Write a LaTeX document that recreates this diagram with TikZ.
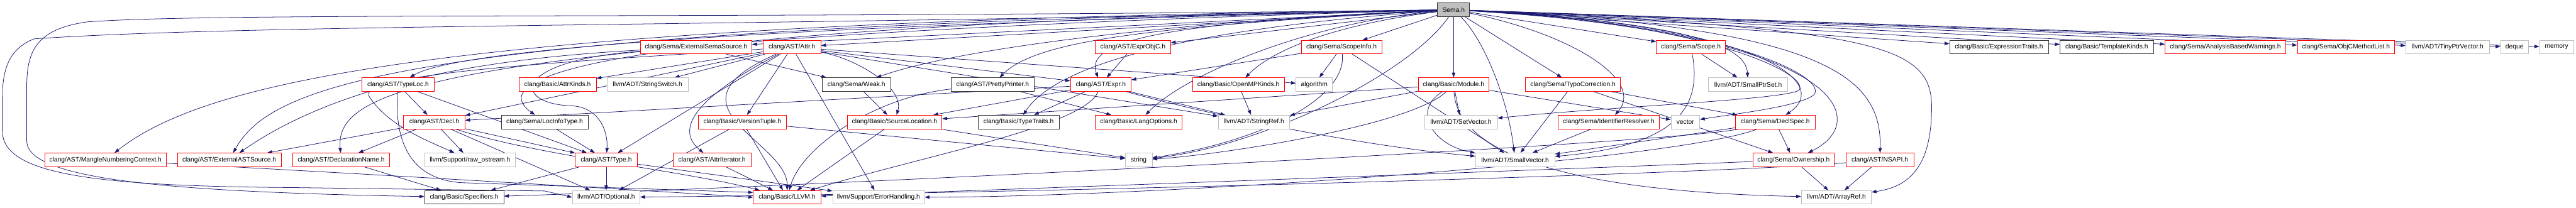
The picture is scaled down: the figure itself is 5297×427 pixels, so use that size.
\documentclass[tikz,border=0pt]{standalone}
\usepackage{fontspec}
\setmainfont{Liberation Sans}
\usetikzlibrary{arrows.meta,backgrounds}
\definecolor{edgec}{HTML}{191970}
\definecolor{grayb}{HTML}{BFBFBF}
\tikzset{
 box/.style={draw, rectangle, fill=white, line width=0.9pt, inner sep=0pt, minimum height=28pt, font=\fontsize{13.3}{16}\selectfont, text=black},
 redbox/.style={box, draw=red},
 blkbox/.style={box, draw=black!80},
 grybox/.style={box, draw=grayb},
 rootbox/.style={box, draw=black!80, fill=grayb},
 e/.style={draw=edgec, line width=1pt, -{Triangle[length=10pt,width=7pt]}},
}
\newcommand{\gnode}[6]{\node[#2, minimum width={(#4-#3)*1pt}] (#1) at ({(#3+#4)/2},#5) {#6};}
\begin{document}
\begin{tikzpicture}[x=1pt,y=-1pt]
\useasboundingbox (0,0) rectangle (5297,427);
% row 0
\gnode{S}{rootbox}{2956}{3022}{20}{Sema.h}
% row 1
\gnode{ess}{redbox}{1317}{1546}{97}{clang/Sema/ExternalSemaSource.h}
\gnode{attr}{redbox}{1569}{1688}{97}{clang/AST/Attr.h}
\gnode{eobjc}{redbox}{2252}{2407}{97}{clang/AST/ExprObjC.h}
\gnode{sinfo}{redbox}{2676}{2841}{97}{clang/Sema/ScopeInfo.h}
\gnode{scope}{redbox}{3406}{3548}{97}{clang/Sema/Scope.h}
\gnode{etr}{blkbox}{4009}{4212}{97}{clang/Basic/ExpressionTraits.h}
\gnode{tk}{blkbox}{4236}{4428}{97}{clang/Basic/TemplateKinds.h}
\gnode{abw}{redbox}{4452}{4700}{97}{clang/Sema/AnalysisBasedWarnings.h}
\gnode{ocml}{redbox}{4724}{4924}{97}{clang/Sema/ObjCMethodList.h}
\gnode{tpv}{grybox}{4947}{5119}{97}{llvm/ADT/TinyPtrVector.h}
\gnode{deque}{grybox}{5142}{5199}{97}{deque}
\gnode{memory}{grybox}{5222}{5292}{97}{memory}
% row 2
\gnode{tloc}{redbox}{744}{893}{174}{clang/AST/TypeLoc.h}
\gnode{ak}{redbox}{1067}{1226}{174}{clang/Basic/AttrKinds.h}
\gnode{ssw}{grybox}{1248}{1415}{174}{llvm/ADT/StringSwitch.h}
\gnode{weak}{blkbox}{1691}{1831}{174}{clang/Sema/Weak.h}
\gnode{pp}{blkbox}{1956}{2126}{174}{clang/AST/PrettyPrinter.h}
\gnode{expr}{redbox}{2201}{2326}{174}{clang/AST/Expr.h}
\gnode{omp}{redbox}{2452}{2641}{174}{clang/Basic/OpenMPKinds.h}
\gnode{algo}{grybox}{2665}{2740}{174}{algorithm}
\gnode{mod}{redbox}{2916}{3062}{174}{clang/Basic/Module.h}
\gnode{typo}{redbox}{3137}{3332}{174}{clang/Sema/TypoCorrection.h}
\gnode{sps}{grybox}{3513}{3676}{174}{llvm/ADT/SmallPtrSet.h}
% row 3
\gnode{decl}{redbox}{830}{956}{251}{clang/AST/Decl.h}
\gnode{lit}{blkbox}{1031}{1209}{251}{clang/Sema/LocInfoType.h}
\gnode{vt}{redbox}{1436}{1617}{251}{clang/Basic/VersionTuple.h}
\gnode{sl}{redbox}{1742}{1937}{251}{clang/Basic/SourceLocation.h}
\gnode{tt}{blkbox}{2011}{2178}{251}{clang/Basic/TypeTraits.h}
\gnode{lo}{redbox}{2252}{2431}{251}{clang/Basic/LangOptions.h}
\gnode{sref}{grybox}{2505}{2652}{251}{llvm/ADT/StringRef.h}
\gnode{sv}{grybox}{2929}{3079}{251}{llvm/ADT/SetVector.h}
\gnode{ir}{redbox}{3204}{3412}{251}{clang/Sema/IdentifierResolver.h}
\gnode{vec}{grybox}{3436}{3495}{251}{vector}
\gnode{ds}{redbox}{3569}{3732}{251}{clang/Sema/DeclSpec.h}
% row 4
\gnode{mnc}{redbox}{92}{342}{329}{clang/AST/MangleNumberingContext.h}
\gnode{easts}{redbox}{365}{578}{329}{clang/AST/ExternalASTSource.h}
\gnode{dn}{redbox}{602}{801}{329}{clang/AST/DeclarationName.h}
\gnode{ros}{grybox}{874}{1059}{329}{llvm/Support/raw\_ostream.h}
\gnode{type}{redbox}{1183}{1310}{329}{clang/AST/Type.h}
\gnode{ai}{redbox}{1384}{1544}{329}{clang/AST/AttrIterator.h}
\gnode{str}{grybox}{2314}{2369}{329}{string}
\gnode{svec}{grybox}{3034}{3197}{329}{llvm/ADT/SmallVector.h}
\gnode{own}{redbox}{3604}{3772}{329}{clang/Sema/Ownership.h}
\gnode{nsapi}{redbox}{3796}{3935}{329}{clang/AST/NSAPI.h}
% row 5
\gnode{spec}{blkbox}{873}{1036}{406}{clang/Basic/Specifiers.h}
\gnode{opt}{grybox}{1177}{1316}{406}{llvm/ADT/Optional.h}
\gnode{llvm}{redbox}{1549}{1688}{406}{clang/Basic/LLVM.h}
\gnode{eh}{grybox}{1712}{1901}{406}{llvm/Support/ErrorHandling.h}
\gnode{aref}{grybox}{3704}{3848}{406}{llvm/ADT/ArrayRef.h}

\begin{pgfonlayer}{background}
% Sema.h direct includes
\draw[e] (S) -- (ess);
\draw[e] (S) -- (attr);
\draw[e] (S) -- (eobjc);
\draw[e] (S) -- (sinfo);
\draw[e] (S) -- (scope);
\draw[e] (S) -- (etr);
\draw[e] (S) -- (tk);
\draw[e] (S) -- (abw);
\draw[e] (S) -- (ocml);
\draw[e] (S) -- (tpv);
\draw[e] (S) -- (deque);
\draw[e] (S) -- (memory);
\draw[e] (S) .. controls (1700,50) and (950,95) .. (tloc);
\draw[e] (S) .. controls (2350,55) and (2130,85) .. (pp);
\draw[e] (S) .. controls (2450,45) and (2225,75) .. (expr);
\draw[e] (S) .. controls (2750,50) and (2620,100) .. (omp);
\draw[e] (S) -- (mod);
\draw[e] (S) -- (typo);
\draw[e] (S) .. controls (3450,45) and (3590,90) .. (sps);
\draw[e] (S) .. controls (1300,50) and (980,150) .. (lit);
\draw[e] (S) .. controls (2700,45) and (2440,150) .. (lo);
\draw[e] (S) .. controls (2500,55) and (2180,120) .. (tt);
\draw[e] (S) .. controls (3250,75) and (3380,170) .. (ir);
\draw[e] (S) .. controls (3620,50) and (3770,170) .. (ds);
\draw[e] (S) .. controls (3800,70) and (3850,250) .. (own);
\draw[e] (S) .. controls (3760,55) and (3870,160) .. (nsapi);
\draw[e] (S) .. controls (3850,60) and (3972,90) .. (3972,220) .. controls (3972,350) and (3920,385) .. (aref);
\draw[e] (S) .. controls (900,45) and (420,170) .. (mnc);
\draw[e] (S) .. controls (850,55) and (560,170) .. (easts);
\draw[e] (S) .. controls (850,80) and (690,190) .. (dn);
\draw[e] (S) .. controls (1500,40) and (450,25) .. (180,45) .. controls (70,60) and (55,110) .. (55,180) -- (55,290) .. controls (55,370) and (350,395) .. (spec);
\draw[e] (S) .. controls (1500,55) and (500,50) .. (70,80) .. controls (20,100) and (5,140) .. (5,200) -- (5,270) .. controls (5,360) and (200,383) .. (600,386) -- (1120,393) -- (opt.west);
\draw[e] (S) .. controls (3050,80) and (3100,200) .. (svec);
\draw[e] (S) .. controls (2900,150) and (2600,300) .. (str);
\draw[e] (S) .. controls (3500,45) and (3720,150) .. (3700,185) .. controls (3680,205) and (3300,220) .. (sv);
\draw[e] (S) .. controls (3560,50) and (3760,160) .. (3730,195) .. controls (3700,220) and (3560,235) .. (vec);
\draw[e] (S) .. controls (2500,40) and (2000,90) .. (weak);
% ExternalSemaSource
\draw[e] (ess) .. controls (1000,120) and (700,170) .. (easts);
\draw[e] (ess) -- (weak);
\draw[e] (ess) .. controls (1050,125) and (1050,215) .. (1180,218) .. controls (1240,225) and (1250,280) .. (type);
% Attr
\draw[e] (attr) -- (ak);
\draw[e] (attr) -- (ssw);
\draw[e] (attr) -- (decl);
\draw[e] (attr) -- (expr);
\draw[e] (attr) -- (type);
\draw[e] (attr) .. controls (1450,190) and (1380,260) .. (ai);
\draw[e] (attr) .. controls (1350,220) and (1620,290) .. (llvm);
\draw[e] (attr) -- (vt);
\draw[e] (attr) .. controls (1760,120) and (1860,180) .. (sl);
\draw[e] (attr) -- (eh);
\draw[e] (attr) .. controls (1200,125) and (720,150) .. (760,200) .. controls (800,260) and (880,290) .. (ros);
\draw[e] (attr) -- (algo);
\draw[e] (attr) -- (sref);
% Decl
\draw[e] (decl) -- (ros);
\draw[e] (decl) -- (type);
\draw[e] (decl) -- (opt);
\draw[e] (decl) -- (easts);
\draw[e] (decl) -- (dn);
\draw[e] (decl) .. controls (1100,320) and (1400,350) .. (llvm);
% TypeLoc
\draw[e] (tloc) -- (decl);
\draw[e] (tloc) -- (type);
\draw[e] (tloc) .. controls (810,300) and (850,370) .. (950,376) -- ([yshift=10pt]llvm.west);
% others, lower rows
\draw[e] (lit) -- (type);
\draw[e] (type) -- (spec);
\draw[e] (type) -- (opt);
\draw[e] (type) -- (eh);
\draw[e] (vt) -- (llvm);
\draw[e] (vt) -- (opt);
\draw[e] (vt) -- (str);
\draw[e] (ai) -- (llvm);
\draw[e] (weak) -- (sl);
\draw[e] (sl) -- (llvm);
\draw[e] (sl) -- (str);
\draw[e] (pp) .. controls (1800,200) and (1650,300) .. (llvm);
\draw[e] (pp) -- (lo);
\draw[e] (expr) -- (sref);
\draw[e] (expr) .. controls (2500,240) and (2800,300) .. (svec);
\draw[e] (expr) -- (sl);
\draw[e] (expr) .. controls (2230,260) and (1900,320) .. (llvm);
\draw[e] (expr) -- (decl);
\draw[e] (expr) -- (tt);
\draw[e] (eobjc) -- (expr);
\draw[e] (omp) -- (sref);
\draw[e] (sinfo) -- (algo);
\draw[e] (sinfo) -- (svec);
\draw[e] (sinfo) .. controls (2770,200) and (2600,290) .. (str);
\draw[e] (sinfo) -- (expr);
\draw[e] (mod) -- (sv);
\draw[e] (mod) .. controls (2900,230) and (2950,300) .. (svec);
\draw[e] (mod) -- (sref);
\draw[e] (mod) -- (sl);
\draw[e] (mod) -- (vec);
\draw[e] (mod) .. controls (2900,260) and (2500,320) .. (str);
\draw[e] (mod) .. controls (3000,380) and (3500,400) .. (aref);
\draw[e] (typo) -- (svec);
\draw[e] (typo) -- (ds);
\draw[e] (typo) -- (own);
\draw[e] (ir) -- (svec);
\draw[e] (ds) -- (own);
\draw[e] (ds) -- (svec);
\draw[e] (ds) .. controls (3400,300) and (1500,390) .. (spec);
\draw[e] (ds) .. controls (3450,330) and (2400,405) .. (eh);
\draw[e] (own) -- (aref);
\draw[e] (own) .. controls (3300,345) and (2200,385) .. (llvm);
\draw[e] (nsapi) -- (aref);
\draw[e] (nsapi) .. controls (3500,360) and (2000,400) .. (opt);
\draw[e] (scope) -- (sps);
\draw[e] (scope) .. controls (3500,220) and (3450,300) .. (svec);
\draw[e] (dn) -- (spec);
\draw[e] (mnc) .. controls (600,350) and (1000,372) .. (llvm.west);
\end{pgfonlayer}
\end{tikzpicture}
\end{document}
